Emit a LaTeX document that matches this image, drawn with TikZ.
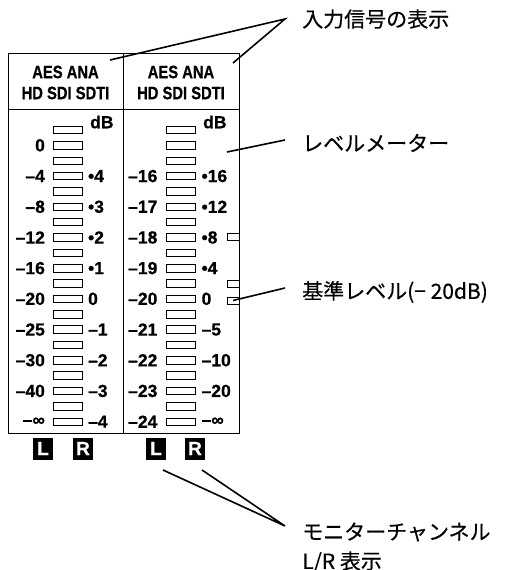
\documentclass[tikz,border=0pt]{standalone}
\usepackage{fontspec}
\setmainfont{Liberation Sans}
\newfontfamily\jp[FakeBold=0.4]{Noto Sans CJK JP}
\newfontfamily\numfont[BoldFeatures={FakeBold=0.6}]{Liberation Sans}
\newfontfamily\hdrfont[FakeStretch=0.82,BoldFeatures={FakeBold=0.6}]{Liberation Sans}
\begin{document}
\begin{tikzpicture}[x=1pt,y=-1pt,
  frame/.style={line width=1pt},
  barbox/.style={draw, line width=0.8pt, minimum width=29pt, minimum height=7.5pt, inner sep=0pt},
  sidebox/.style={draw, line width=0.8pt, minimum width=12pt, minimum height=7pt, inner sep=0pt},
  num/.style={font=\numfont\bfseries\fontsize{17.5}{17.5}\selectfont, inner sep=0pt},
  hdr/.style={font=\hdrfont\bfseries\fontsize{18}{18}\selectfont, inner sep=0pt},
  chbox/.style={fill=black, text=white, minimum width=20pt, minimum height=22pt, inner sep=0pt, font=\numfont\bfseries\fontsize{19}{19}\selectfont},
  jlabel/.style={font=\jp\fontsize{21}{21}\selectfont, anchor=west, inner sep=0pt},
  leader/.style={line width=1.6pt}]
\useasboundingbox (0,0) rectangle (513,570);
% frame
\draw[frame] (8,53) rectangle (239,433);
\draw[frame] (123,53) -- (123,433);
\draw[frame] (8,109) -- (239,109);
% headers
\node[hdr] (hA1) at (65.5,72) {AES ANA};
\node[hdr] (hA2) at (65.5,93) {HD SDI SDTI};
\node[hdr] (hB1) at (181,72) {AES ANA};
\node[hdr] (hB2) at (181,93) {HD SDI SDTI};
% bars
\foreach \i in {0,...,19} {
  \node[barbox] (lb\i) at (68,130+\i*15.35) {};
  \node[barbox] (rb\i) at (180.5,130+\i*15.35) {};
}
% dB
\node[num, anchor=west] (dBl) at (90,122) {dB};
\node[num, anchor=west] (dBr) at (203,122) {dB};
% left column labels
\foreach \i/\t in {1/0,3/–4,5/–8,7/–12,9/–16,11/–20,13/–25,15/–30,17/–40,19/–∞}
  \node[num, anchor=east] (ll\i) at ([xshift=-8pt]lb\i.west) {\t};
\foreach \i/\t in {3/•4,5/•3,7/•2,9/•1,11/0,13/–1,15/–2,17/–3,19/–4}
  \node[num, anchor=west] (lr\i) at ([xshift=5pt]lb\i.east) {\t};
% right column labels
\foreach \i/\t in {3/–16,5/–17,7/–18,9/–19,11/–20,13/–21,15/–22,17/–23,19/–24}
  \node[num, anchor=east] (rl\i) at ([xshift=-8pt]rb\i.west) {\t};
\foreach \i/\t in {3/•16,5/•12,7/•8,9/•4,11/0,13/–5,15/–10,17/–20,19/–∞}
  \node[num, anchor=west] (rr\i) at ([xshift=6pt]rb\i.east) {\t};
% side indicators
\node[sidebox] (s7) at (233,237) {};
\node[sidebox] (s10) at (233,283.7) {};
\node[sidebox] (s11) at (233,300.5) {};
% channel boxes
\node[chbox] (cL1) at (43,448.5) {L};
\node[chbox] (cR1) at (83,448.5) {R};
\node[chbox] (cL2) at (156,448.5) {L};
\node[chbox] (cR2) at (195,448.5) {R};
% callout labels
\node[jlabel] (tIn) at (302,19) {入力信号の表示};
\node[jlabel] (tLv) at (302,143) {レベルメーター};
\node[jlabel] (tRef) at (302,292) {基準レベル(− 20dB)};
\node[jlabel] (tMon) at (302,532) {モニターチャンネル};
\node[jlabel] (tMon2) at (302,562) {L/R 表示};
% leader coordinates
\coordinate (jIn) at (285,19);
\coordinate (eInA) at (110,60);
\coordinate (eInB) at (233,63);
\coordinate (jLv) at (285,140);
\coordinate (eLv) at (227,152);
\coordinate (jRef) at (285,288);
\coordinate (jMon) at (285,526);
\coordinate (eMonL) at (163,470);
\coordinate (eMonR) at (202,470);
\draw[leader] (eInA) -- (jIn) -- (eInB);
\draw[leader] (jLv) -- (eLv);
\draw[leader] (jRef) -- (s11.center);
\draw[leader] (eMonL) -- (jMon) -- (eMonR);
\end{tikzpicture}
\end{document}
